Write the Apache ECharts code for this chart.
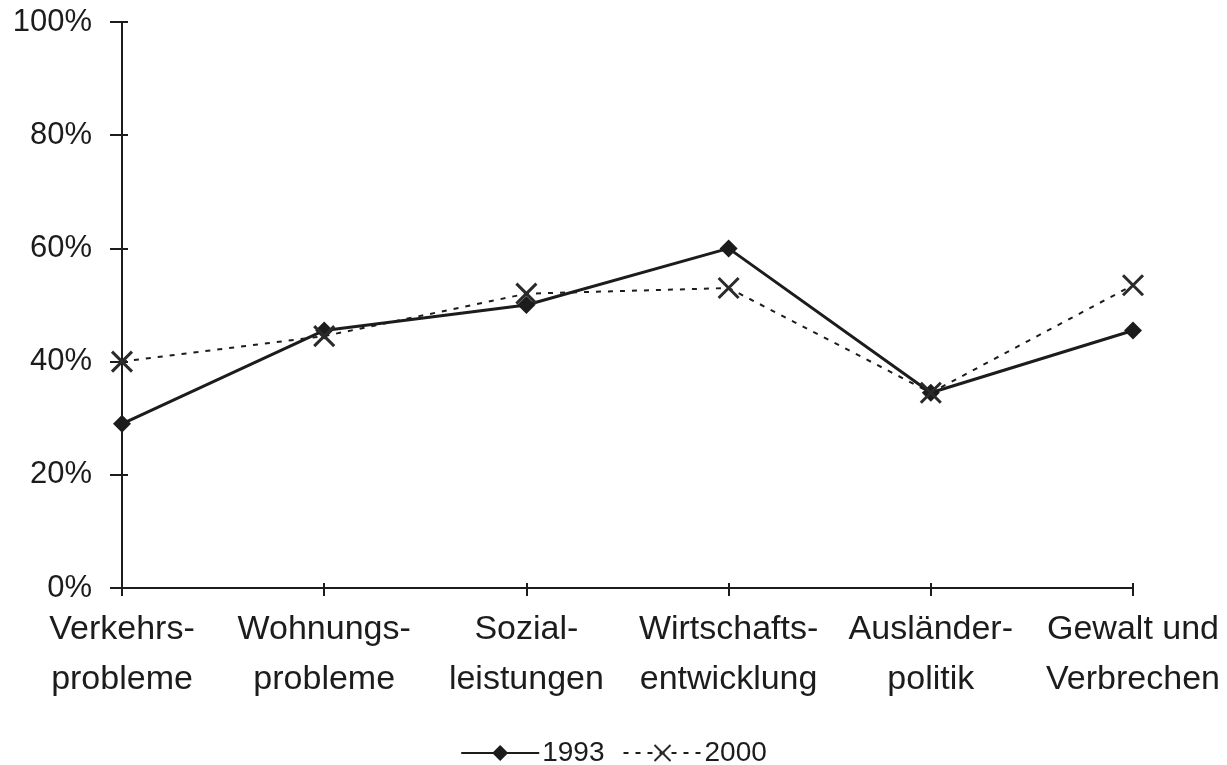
<!DOCTYPE html>
<html>
<head>
<meta charset="utf-8">
<script src="https://cdn.jsdelivr.net/npm/echarts@6/dist/echarts.min.js"></script>
<style>
  html, body { margin: 0; padding: 0; background: #fff; }
  #chart { width: 1227px; height: 765px; }
</style>
</head>
<body>
<div id="chart"></div>
<script>
// categories and values (percent)
const categories = [
  'Verkehrs-\nprobleme',
  'Wohnungs-\nprobleme',
  'Sozial-\nleistungen',
  'Wirtschafts-\nentwicklung',
  'Ausländer-\npolitik',
  'Gewalt und\nVerbrechen'
]
const values1993 = [29, 45.5, 50, 60, 34.5, 45.5]
const values2000 = [40, 44.5, 52, 53, 34.5, 53.5]
const yTicks = [0, 20, 40, 60, 80, 100]

const ink = '#1c1c1c'
const font = 'Liberation Sans'
const crossPath = 'path://M0,0L10,10M10,0L0,10'

const chart = echarts.init(document.getElementById('chart'), null, { renderer: 'canvas' })

chart.setOption({
  animation: false,
  textStyle: { fontFamily: font, color: ink },
  grid: { left: 122, right: 94, top: 22, bottom: 177 },
  legend: {
    top: 734,
    left: 'center',
    itemWidth: 78,
    itemHeight: 20,
    itemGap: 18,
    textStyle: { fontFamily: font, fontSize: 28, color: ink, padding: [0, 0, 0, -2] },
    data: ['1993', '2000']
  },
  xAxis: [{
    type: 'category',
    data: categories,
    boundaryGap: false,
    axisLine: { lineStyle: { color: ink, width: 2 } },
    axisTick: { show: true, length: 8, lineStyle: { color: ink, width: 2 } },
    axisLabel: {
      interval: 0,
      margin: 17,
      fontFamily: font,
      fontSize: 34,
      lineHeight: 50,
      color: ink,
      align: 'center'
    },
    splitLine: { show: false }
  }, {
    // duplicate axis only to make the ticks cross the line
    type: 'category',
    position: 'bottom',
    data: categories,
    boundaryGap: false,
    axisLine: { show: false },
    axisTick: { show: true, inside: true, length: 5, lineStyle: { color: ink, width: 2 } },
    axisLabel: { show: false },
    splitLine: { show: false }
  }],
  yAxis: [{
    type: 'value',
    min: yTicks[0],
    max: yTicks[yTicks.length - 1],
    interval: 20,
    axisLine: { show: true, lineStyle: { color: ink, width: 2 } },
    axisTick: { show: true, length: 12, lineStyle: { color: ink, width: 2 } },
    axisLabel: {
      margin: 30,
      fontFamily: font,
      fontSize: 31,
      color: ink,
      formatter: v => v + '%'
    },
    splitLine: { show: false }
  }, {
    // second axis only to make ticks cross the line
    type: 'value',
    position: 'left',
    min: yTicks[0],
    max: yTicks[yTicks.length - 1],
    interval: 20,
    axisLine: { show: false },
    axisTick: { show: true, inside: true, length: 6, lineStyle: { color: ink, width: 2 } },
    axisLabel: { show: false },
    splitLine: { show: false }
  }],
  series: [{
    name: '1993',
    type: 'line',
    data: values1993,
    symbol: 'diamond',
    symbolSize: 18,
    lineStyle: { color: ink, width: 3 },
    itemStyle: { color: ink }
  }, {
    name: '2000',
    type: 'line',
    data: values2000,
    symbol: crossPath,
    symbolSize: 20,
    lineStyle: { color: ink, width: 2, type: [5, 7] },
    itemStyle: { color: 'transparent', borderColor: '#2a2a2a', borderWidth: 3 },
    z: 3
  }]
})
</script>
</body>
</html>
